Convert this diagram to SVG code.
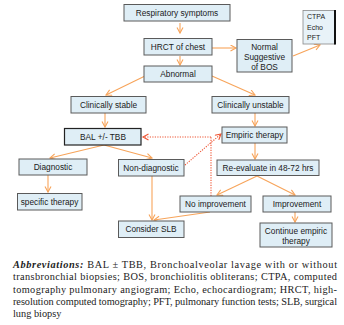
<svg xmlns="http://www.w3.org/2000/svg" width="344" height="325" viewBox="0 0 344 325">
<defs>
<marker id="ah" markerWidth="8" markerHeight="8" refX="6" refY="3.5" orient="auto" markerUnits="userSpaceOnUse">
<path d="M0.5,0.5 L6,3.5 L0.5,6.5" fill="none" stroke="#f7a45a" stroke-width="1.1"/>
</marker>
<marker id="ahr" markerWidth="8" markerHeight="8" refX="6" refY="3.5" orient="auto" markerUnits="userSpaceOnUse">
<path d="M0.5,0.5 L6,3.5 L0.5,6.5" fill="none" stroke="#ee5533" stroke-width="1.1"/>
</marker>
</defs>
<style>
.b{fill:#dfeef6;stroke:#5a5a5a;stroke-width:1}
.bd{fill:#dfeef6;stroke:#222;stroke-width:1.2}
.t{font-family:"Liberation Sans",Arial,sans-serif;font-size:8.3px;fill:#1a1a1a;text-anchor:middle}
.tc{font-family:"Liberation Sans",Arial,sans-serif;font-size:7px;fill:#1a1a1a}
.c{fill:none;stroke:#f7a45a;stroke-width:1.1;marker-end:url(#ah)}
.cn{fill:none;stroke:#f7a45a;stroke-width:1.1}
.d{fill:none;stroke:#ee5533;stroke-width:1.1;stroke-dasharray:1.2,1.3}
.ab{font-family:"Liberation Serif","Times New Roman",serif;font-size:10.3px;fill:#222}
</style>
<rect width="344" height="325" fill="#fff"/>
<g id="connectors">
<line class="c" x1="180" y1="23" x2="180" y2="33"/>
<line class="c" x1="212" y1="48" x2="236" y2="48"/>
<line class="c" x1="293" y1="56" x2="320" y2="45"/>
<line class="c" x1="180" y1="56" x2="180" y2="65"/>
<line class="c" x1="145" y1="76" x2="106" y2="95"/>
<line class="c" x1="212" y1="76" x2="255" y2="95"/>
<line class="c" x1="105" y1="113" x2="105" y2="127"/>
<line class="c" x1="255" y1="113" x2="255" y2="126"/>
<line class="c" x1="104" y1="145" x2="50" y2="158"/>
<line class="c" x1="104" y1="145" x2="152" y2="158"/>
<line class="c" x1="48" y1="175" x2="48" y2="192"/>
<line class="c" x1="255" y1="143" x2="255" y2="159"/>
<line class="c" x1="257" y1="176" x2="217" y2="195"/>
<line class="c" x1="257" y1="176" x2="295" y2="195"/>
<line class="c" x1="295" y1="212" x2="295" y2="222"/>
<line class="c" x1="152" y1="176" x2="152" y2="220"/>
<line class="c" x1="210" y1="212" x2="154" y2="220"/>
<line class="d" x1="211" y1="196" x2="211" y2="137"/>
<line class="d" x1="211" y1="137" x2="143" y2="137" marker-end="url(#ahr)"/>
<line class="d" x1="185" y1="165" x2="221" y2="134" marker-end="url(#ahr)"/>
</g>
<g id="resp"><rect class="b" x="124" y="4.5" width="106" height="16.5"/><text class="t" x="177" y="15.8">Respiratory symptoms</text></g>
<g id="hrct"><rect class="b" x="144" y="38.5" width="68" height="16.5"/><text class="t" x="178" y="49.8">HRCT of chest</text></g>
<g id="normal"><rect class="b" x="237" y="39.5" width="55" height="32.5"/><text class="t" x="264.5" y="49.7">Normal</text><text class="t" x="264.5" y="59.7">Suggestive</text><text class="t" x="264.5" y="70">of BOS</text></g>
<g id="ctpa"><rect x="303" y="10.5" width="32" height="33.5" fill="#e8f2f8" stroke="#888" stroke-width="0.8"/><line x1="335" y1="10" x2="335" y2="44.5" stroke="#111" stroke-width="2"/><text class="tc" x="307" y="19.3">CTPA</text><text class="tc" x="307" y="29.8">Echo</text><text class="tc" x="307" y="40.2">PFT</text></g>
<g id="abnormal"><rect class="b" x="144" y="66" width="68" height="16"/><text class="t" x="178" y="77">Abnormal</text></g>
<g id="stable"><rect class="b" x="71" y="96.5" width="75" height="16.5"/><text class="t" x="108.5" y="107.8">Clinically stable</text></g>
<g id="unstable"><rect class="b" x="212" y="96.5" width="77" height="16.5"/><text class="t" x="250.5" y="107.8">Clinically unstable</text></g>
<g id="bal"><rect class="bd" x="64.5" y="128.5" width="76.5" height="16.5"/><text class="t" x="103" y="139.8">BAL +/- TBB</text></g>
<g id="empiric"><rect class="b" x="222" y="127" width="65" height="16"/><text class="t" x="254.5" y="137.8">Empiric therapy</text></g>
<g id="diagnostic"><rect class="b" x="19" y="159" width="68" height="16"/><text class="t" x="53" y="170">Diagnostic</text></g>
<g id="nondiag"><rect class="b" x="118.5" y="159.5" width="65.5" height="16.5"/><text class="t" x="151" y="170.5">Non-diagnostic</text></g>
<g id="reeval"><rect class="b" x="217" y="160" width="102" height="15.5"/><text class="t" x="268" y="170.8">Re-evaluate in 48-72 hrs</text></g>
<g id="specific"><rect class="b" x="17.5" y="193.5" width="64.5" height="16.5"/><text class="t" x="49.5" y="204.5">specific therapy</text></g>
<g id="noimp"><rect class="b" x="180" y="196" width="71" height="16"/><text class="t" x="215.5" y="206.8">No improvement</text></g>
<g id="imp"><rect class="b" x="263" y="196" width="68" height="16"/><text class="t" x="297" y="206.8">Improvement</text></g>
<g id="slb"><rect class="b" x="118.5" y="221" width="65.5" height="16.5"/><text class="t" x="151" y="232">Consider SLB</text></g>
<g id="continue"><rect class="b" x="260" y="223" width="72" height="24"/><text class="t" x="296" y="233.5">Continue empiric</text><text class="t" x="296" y="244">therapy</text></g>
<g id="abbrev">
<text class="ab" x="13" y="267.5" textLength="324" lengthAdjust="spacing"><tspan font-weight="bold" font-style="italic">Abbreviations:</tspan> BAL ± TBB, Bronchoalveolar lavage with or without</text>
<text class="ab" x="13" y="280" textLength="324" lengthAdjust="spacing">transbronchial biopsies; BOS, bronchiolitis obliterans; CTPA, computed</text>
<text class="ab" x="13" y="292.5" textLength="324" lengthAdjust="spacing">tomography pulmonary angiogram; Echo, echocardiogram; HRCT, high-</text>
<text class="ab" x="13" y="305" textLength="324" lengthAdjust="spacing">resolution computed tomography; PFT, pulmonary function tests; SLB, surgical</text>
<text class="ab" x="13" y="317">lung biopsy</text>
</g>
</svg>
